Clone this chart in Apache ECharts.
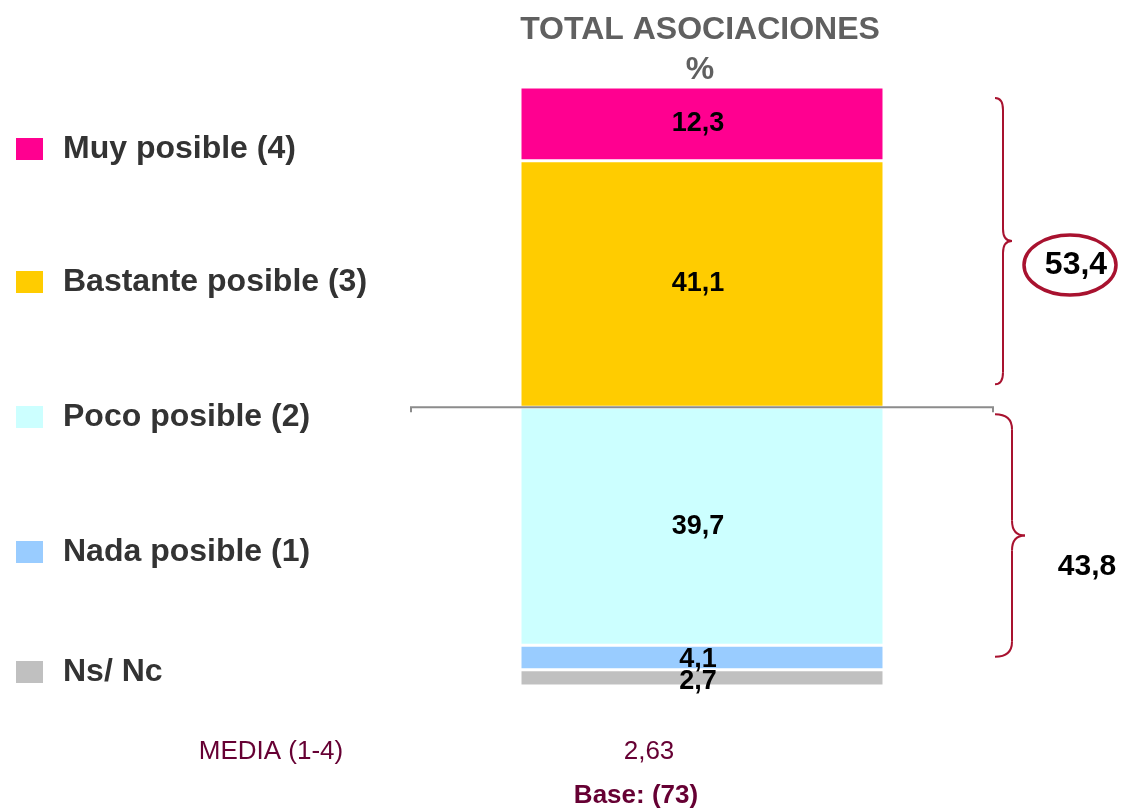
<!DOCTYPE html>
<html>
<head>
<meta charset="utf-8">
<script src="https://cdn.jsdelivr.net/npm/echarts@6/dist/echarts.min.js"></script>
<style>
html,body{margin:0;padding:0;background:#fff;}
#c{width:1121px;height:809px;}
</style>
</head>
<body>
<div id="c"></div>
<script>
// ---- data ----
const categories = ['TOTAL ASOCIACIONES'];
const nsNc = [2.7];
const nadaPosible = [4.1];
const pocoPosible = [39.7];
const bastantePosible = [41.1];
const muyPosible = [12.3];
const seriesNames = ['Ns/ Nc', 'Nada posible (1)', 'Poco posible (2)', 'Bastante posible (3)', 'Muy posible (4)'];
const seriesColors = ['#C0C0C0', '#99CCFF', '#CCFFFF', '#FFCC00', '#FF0090'];
const legendOrder = ['Muy posible (4)', 'Bastante posible (3)', 'Poco posible (2)', 'Nada posible (1)', 'Ns/ Nc'];
const mediaLabel = 'MEDIA (1-4)';
const mediaValue = '2,63';
const baseValue = 73;

const FONT = '"Liberation Sans", Arial, sans-serif';
const fmt = v => Number(v).toFixed(1).replace('.', ',');
const seriesData = [nsNc, nadaPosible, pocoPosible, bastantePosible, muyPosible];
const total = seriesData.reduce((s, a) => s + a[0], 0);
const topSum = muyPosible[0] + bastantePosible[0];
const lowSum = pocoPosible[0] + nadaPosible[0];
const splitValue = nsNc[0] + nadaPosible[0] + pocoPosible[0];

const chart = echarts.init(document.getElementById('c'), null, {renderer: 'canvas'});

const legendCenters = [145, 278, 413, 548, 668];
const legends = legendOrder.map((name, i) => ({
  data: [name],
  left: 14,
  top: legendCenters[i] - 12,
  padding: 0,
  orient: 'vertical',
  icon: 'rect',
  itemWidth: 29,
  itemHeight: 24,
  selectedMode: false,
  textStyle: {
    fontFamily: FONT, fontSize: 32, fontWeight: 'bold', color: '#333333',
    padding: [0, 0, 0, 14], lineHeight: 24
  }
}));

const labelOffsets = [[-4, 4], [-4, 2], [-4, 0], [-4, 0], [-4, 0]];

chart.setOption({
  animation: false,
  title: {
    text: categories[0] + '\n%',
    left: 695,
    textAlign: 'center',
    top: 5,
    textStyle: {fontFamily: FONT, fontSize: 32, fontWeight: 'bold', color: '#606060', lineHeight: 40}
  },
  legend: legends,
  grid: {left: 520, right: 237, top: 87, bottom: 123, containLabel: false},
  xAxis: {type: 'category', data: categories, show: false},
  yAxis: {type: 'value', min: 0, max: total, show: false},
  series: seriesNames.map((name, i) => ({
    name: name,
    type: 'bar',
    stack: 'total',
    data: seriesData[i],
    barWidth: '100%',
    itemStyle: {color: seriesColors[i], borderColor: '#ffffff', borderWidth: 1.5},
    label: {
      show: true,
      position: 'inside',
      formatter: p => fmt(p.value),
      fontFamily: FONT, fontSize: 27, fontWeight: 'bold', color: '#000000',
      offset: labelOffsets[i]
    }
  }))
});

const yPix = v => chart.convertToPixel({yAxisIndex: 0}, v);
const ySplit = yPix(splitValue);
const yTop = yPix(total);
const yNs = yPix(nsNc[0]);
const braceColor = '#A8122F';
const bStyle = {stroke: braceColor, lineWidth: 2, fill: null};

function brace(x0, xv, xt, y0, y1, r) {
  const ym = (y0 + y1) / 2;
  const q = (x1, y1_, cx, cy, x2, y2) => ({type: 'bezierCurve', z: 10, shape: {x1: x1, y1: y1_, cpx1: cx, cpy1: cy, x2: x2, y2: y2}, style: bStyle});
  const l = (x1, y1_, x2, y2) => ({type: 'line', z: 10, shape: {x1: x1, y1: y1_, x2: x2, y2: y2}, style: bStyle});
  return [
    q(x0, y0, xv, y0, xv, y0 + r),
    l(xv, y0 + r, xv, ym - r),
    q(xv, ym - r, xv, ym, xt, ym),
    q(xt, ym, xv, ym, xv, ym + r),
    l(xv, ym + r, xv, y1 - r),
    q(xv, y1 - r, xv, y1, x0, y1)
  ];
}

const u0 = yTop + 11, u1 = ySplit - 23, um = (u0 + u1) / 2;
const l0 = ySplit + 7, l1 = yNs - 13, lm = (l0 + l1) / 2;

chart.setOption({
  graphic: [
    {type: 'polyline', z: 10, shape: {points: [[411, ySplit + 5], [411, ySplit], [993, ySplit], [993, ySplit + 5]]},
     style: {stroke: '#8C8C8C', lineWidth: 2, fill: null}},
    ...brace(995, 1003, 1012, u0, u1, 12),
    ...brace(995, 1012, 1025, l0, l1, 15),
    {type: 'ellipse', z: 10, shape: {cx: 1070, cy: um + 24, rx: 46, ry: 30},
     style: {stroke: braceColor, lineWidth: 3.5, fill: '#ffffff'}},
    {type: 'text', z: 11, x: 1076, y: um + 24, style: {text: fmt(topSum), fontFamily: FONT, fontSize: 32, fontWeight: 'bold', fill: '#000', align: 'center', verticalAlign: 'middle'}},
    {type: 'text', z: 11, x: 1087, y: lm + 31, style: {text: fmt(lowSum), fontFamily: FONT, fontSize: 30, fontWeight: 'bold', fill: '#000', align: 'center', verticalAlign: 'middle'}},
    {type: 'text', x: 271, y: 752, style: {text: mediaLabel, fontFamily: FONT, fontSize: 26, fill: '#660033', align: 'center', verticalAlign: 'middle'}},
    {type: 'text', x: 649, y: 752, style: {text: mediaValue, fontFamily: FONT, fontSize: 26, fill: '#660033', align: 'center', verticalAlign: 'middle'}},
    {type: 'text', x: 636, y: 796, style: {text: 'Base: (' + baseValue + ')', fontFamily: FONT, fontSize: 26, fontWeight: 'bold', fill: '#660033', align: 'center', verticalAlign: 'middle'}}
  ]
});
</script>
</body>
</html>
